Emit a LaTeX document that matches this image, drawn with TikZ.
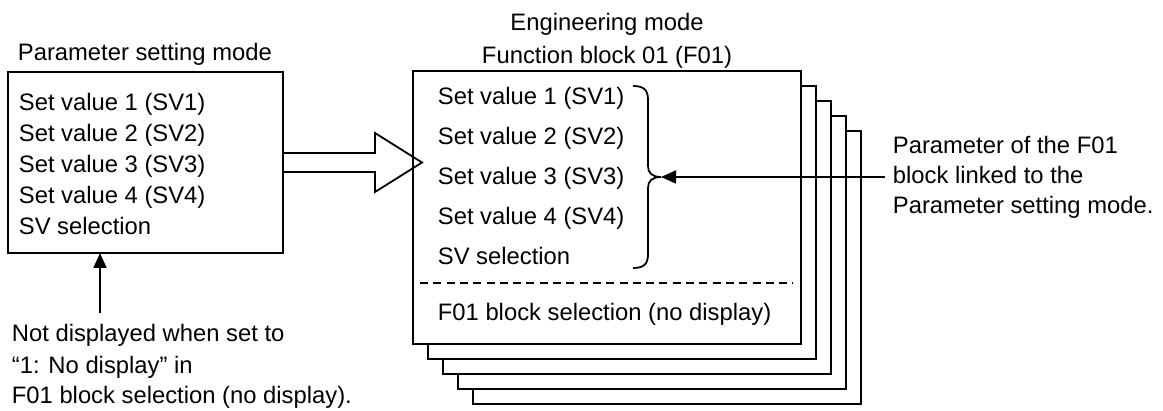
\documentclass[tikz,border=0pt]{standalone}
\usepackage{fontspec}
\setmainfont{Liberation Sans}
\usetikzlibrary{arrows.meta}
\tikzset{
  txt/.style={font=\fontsize{23.8}{30}\selectfont, inner sep=0pt, anchor=base west},
  box/.style={draw, fill=white, inner sep=0pt, outer sep=0pt},
  pfeil/.style={-{Triangle[length=15pt,width=13pt]}},
}
\begin{document}
\begin{tikzpicture}[x=1pt, y=1pt, line width=1.8pt]
    \useasboundingbox (0,0) rectangle (1163,410);
    % Parameter setting mode
    \node[box, minimum width=275pt, minimum height=181pt] (psm) at (145.5,247.5) {};
    \node[txt] (psmtitle) at (17,349.5) {Parameter setting mode};
    \foreach \t [count=\i] in {Set value 1 (SV1), Set value 2 (SV2), Set value 3 (SV3), Set value 4 (SV4), SV selection}
        \node[txt] (psm\i) at (18,{299.5-31*(\i-1)}) {\t};

    % Engineering mode, Stapel hinten
    \foreach \k in {4,3,2,1}
        \node[box, minimum width=388pt, minimum height=273pt] (stack\k) at ({607+15*\k},{202.5-15*\k}) {};
    \node[box, minimum width=388pt, minimum height=273pt] (fb) at (607,202.5) {};
    \node[txt, anchor=base] (engtitle) at (607,379.5) {Engineering mode};
    \node[txt, anchor=base] (fbtitle) at (607,346.5) {Function block 01 (F01)};
    \foreach \t [count=\i] in {Set value 1 (SV1), Set value 2 (SV2), Set value 3 (SV3), Set value 4 (SV4), SV selection}
        \node[txt] (eng\i) at (437,{305-40*(\i-1)}) {\t};
    \draw[dash pattern=on 8pt off 5.3pt] (420,127) -- (793,127);
    \node[txt] (engsel) at (437,89.5) {F01 block selection (no display)};

    % Blockpfeil
    \draw (psm.east) ++(0,9.5) -- ++(92,0) -- ++(0,20) -- ++(47,-29.5) -- ++(-47,-29.5) -- ++(0,20) -- ++(-92,0);

    % Klammer
    \coordinate (br) at (661,233);
    \draw (633,324) .. controls (644,324) and (648,320) .. (648,310) -- (648,244)
        .. controls (648,237) and (652,233) .. (br) .. controls (652,233) and (648,229) .. (648,222)
        -- (648,156) .. controls (648,146) and (644,142) .. (633,142);
    \node[txt] (note1) at (892,256.5) {Parameter of the F01};
    \node[txt] (note2) at (892,226.5) {block linked to the};
    \node[txt] (note3) at (892,196.5) {Parameter setting mode.};
    \draw[pfeil] (br -| note2.west) ++(-7,0) -- (br);

    % Hinweis unten
    \node[txt] (hint1) at (11,68.5) {Not displayed when set to};
    \node[txt] (hint2) at (11,36.5) {“1: No display” in};
    \node[txt] (hint3) at (11,6.5) {F01 block selection (no display).};
    \draw[pfeil] ([shift={(89,10)}]hint1.north west) -- ([xshift=92pt]psm.south west);
\end{tikzpicture}
\end{document}
